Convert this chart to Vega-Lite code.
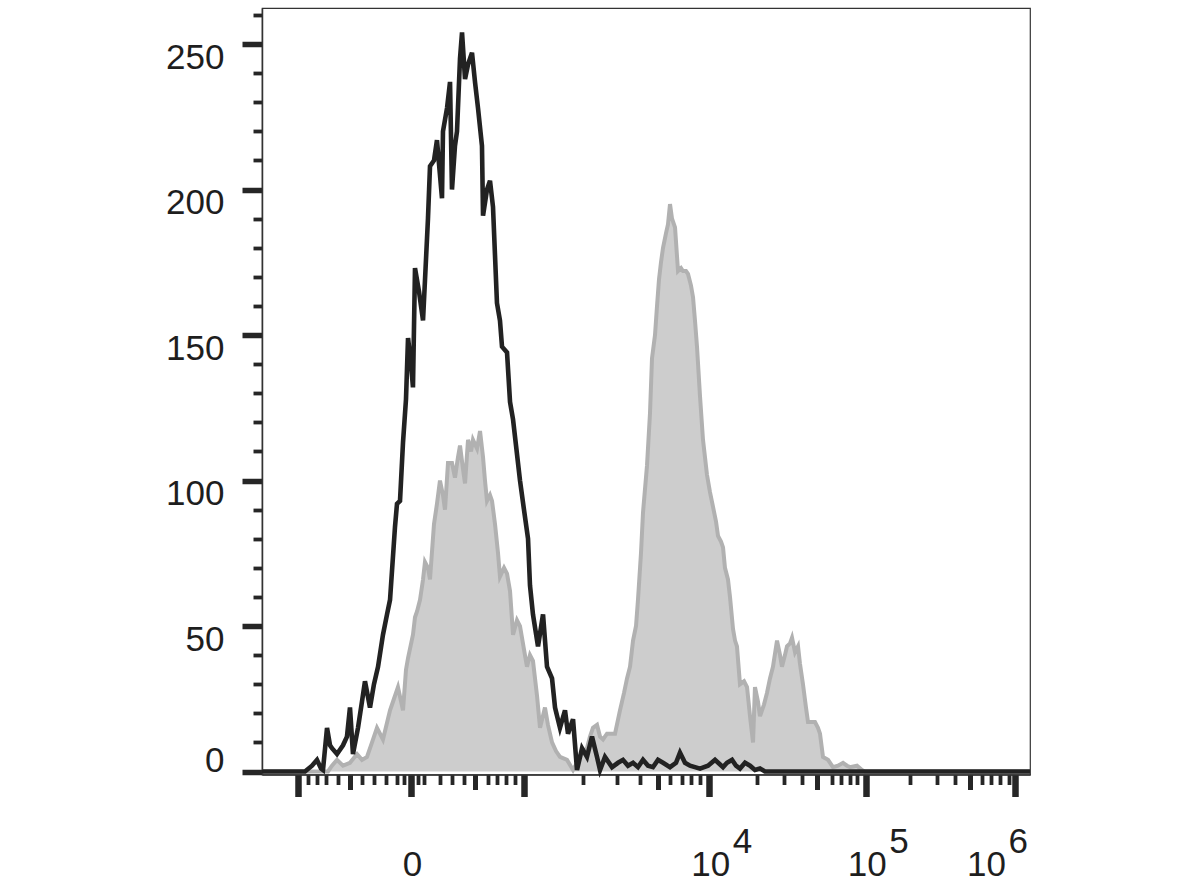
{
  "$schema": "https://vega.github.io/schema/vega-lite/v6.json",
  "width": 768,
  "height": 766.5,
  "autosize": {"type": "none"},
  "padding": {"left": 262, "top": 8, "right": 158, "bottom": 116.5},
  "background": "white",
  "config": {
    "view": {"stroke": "#333333", "strokeWidth": 1.2},
    "axis": {
      "grid": false,
      "labelFont": "Liberation Sans",
      "labelFontSize": 35,
      "labelColor": "#1e1e1e",
      "tickColor": "#262626",
      "domainColor": "#333333",
      "domainWidth": 1.5,
      "labelOverlap": false,
      "labelFlush": false,
      "labelBound": false
    }
  },
  "datasets": {
    "stained": [
      {"channel": 0, "count": 0}, {"channel": 88, "count": 0}, {"channel": 93.3, "count": 2}, {"channel": 100, "count": 4},
      {"channel": 108, "count": 2}, {"channel": 117.3, "count": 3}, {"channel": 126.7, "count": 6}, {"channel": 133.3, "count": 4},
      {"channel": 140, "count": 5}, {"channel": 146.7, "count": 10}, {"channel": 153.3, "count": 15}, {"channel": 161.3, "count": 11},
      {"channel": 170.7, "count": 21}, {"channel": 176, "count": 25}, {"channel": 181.3, "count": 29}, {"channel": 188, "count": 21},
      {"channel": 192, "count": 35}, {"channel": 194.7, "count": 39}, {"channel": 201.3, "count": 47}, {"channel": 204, "count": 53},
      {"channel": 206.7, "count": 55}, {"channel": 210.7, "count": 59}, {"channel": 214.7, "count": 66}, {"channel": 217.3, "count": 72},
      {"channel": 221.3, "count": 70}, {"channel": 224, "count": 66}, {"channel": 229.3, "count": 85}, {"channel": 233.3, "count": 92},
      {"channel": 237.3, "count": 100}, {"channel": 241.3, "count": 95}, {"channel": 244, "count": 90}, {"channel": 248, "count": 106},
      {"channel": 253.3, "count": 106}, {"channel": 257.3, "count": 101}, {"channel": 261.3, "count": 108}, {"channel": 264, "count": 112},
      {"channel": 268, "count": 104}, {"channel": 270.7, "count": 99}, {"channel": 274.7, "count": 114}, {"channel": 278.7, "count": 110},
      {"channel": 281.3, "count": 114}, {"channel": 286.7, "count": 111}, {"channel": 290.7, "count": 117}, {"channel": 294.7, "count": 108},
      {"channel": 297.3, "count": 100}, {"channel": 300, "count": 93}, {"channel": 304, "count": 95}, {"channel": 306.7, "count": 93},
      {"channel": 310.7, "count": 85}, {"channel": 314.7, "count": 75}, {"channel": 317.3, "count": 67}, {"channel": 322.7, "count": 70},
      {"channel": 326.7, "count": 68}, {"channel": 330.7, "count": 62}, {"channel": 334.7, "count": 47}, {"channel": 340, "count": 52},
      {"channel": 344, "count": 50}, {"channel": 349.3, "count": 42}, {"channel": 353.3, "count": 36}, {"channel": 357.3, "count": 40},
      {"channel": 361.3, "count": 38}, {"channel": 366.7, "count": 26}, {"channel": 370.7, "count": 15}, {"channel": 377.3, "count": 22},
      {"channel": 381.3, "count": 16}, {"channel": 386.7, "count": 10}, {"channel": 392, "count": 7}, {"channel": 397.3, "count": 5},
      {"channel": 406.7, "count": 4}, {"channel": 414.7, "count": 0.5}, {"channel": 420, "count": 3}, {"channel": 424, "count": 5},
      {"channel": 429.3, "count": 7}, {"channel": 433.3, "count": 8}, {"channel": 437.3, "count": 12}, {"channel": 441.3, "count": 15},
      {"channel": 446.7, "count": 16}, {"channel": 450.7, "count": 12}, {"channel": 454.7, "count": 11}, {"channel": 460, "count": 13},
      {"channel": 464, "count": 13}, {"channel": 470.7, "count": 13}, {"channel": 477.3, "count": 21}, {"channel": 482.7, "count": 27},
      {"channel": 486.7, "count": 32}, {"channel": 490.7, "count": 36}, {"channel": 494.7, "count": 45}, {"channel": 498.7, "count": 50},
      {"channel": 501.3, "count": 59}, {"channel": 505.3, "count": 75}, {"channel": 508, "count": 89}, {"channel": 513.3, "count": 105},
      {"channel": 517.3, "count": 123}, {"channel": 520, "count": 142}, {"channel": 524, "count": 150}, {"channel": 526.7, "count": 160},
      {"channel": 529.3, "count": 169}, {"channel": 532, "count": 175}, {"channel": 534.7, "count": 180}, {"channel": 538.7, "count": 185},
      {"channel": 541.3, "count": 188}, {"channel": 544, "count": 195}, {"channel": 546.7, "count": 190}, {"channel": 550.7, "count": 187},
      {"channel": 554.7, "count": 172}, {"channel": 558.7, "count": 173}, {"channel": 561.3, "count": 172}, {"channel": 565.3, "count": 172},
      {"channel": 568, "count": 171}, {"channel": 572, "count": 167}, {"channel": 574.7, "count": 163}, {"channel": 577.3, "count": 155},
      {"channel": 580, "count": 146}, {"channel": 584, "count": 129}, {"channel": 588, "count": 114}, {"channel": 593.3, "count": 102},
      {"channel": 597.3, "count": 96}, {"channel": 601.3, "count": 91}, {"channel": 605.3, "count": 86}, {"channel": 608, "count": 81},
      {"channel": 612, "count": 79}, {"channel": 614.7, "count": 77}, {"channel": 617.3, "count": 70}, {"channel": 621.3, "count": 66},
      {"channel": 624, "count": 60}, {"channel": 628, "count": 49}, {"channel": 630.7, "count": 45}, {"channel": 633.3, "count": 43},
      {"channel": 637.3, "count": 30}, {"channel": 642.7, "count": 31}, {"channel": 646.7, "count": 29}, {"channel": 650.7, "count": 19},
      {"channel": 654.7, "count": 10}, {"channel": 657.3, "count": 29}, {"channel": 661.3, "count": 24}, {"channel": 664, "count": 19},
      {"channel": 669.3, "count": 23}, {"channel": 673.3, "count": 27}, {"channel": 677.3, "count": 32}, {"channel": 681.3, "count": 36},
      {"channel": 686.7, "count": 45}, {"channel": 690.7, "count": 40}, {"channel": 693.3, "count": 36}, {"channel": 697.3, "count": 40},
      {"channel": 700, "count": 43}, {"channel": 704, "count": 44}, {"channel": 706.7, "count": 46}, {"channel": 710.7, "count": 41},
      {"channel": 714.7, "count": 43}, {"channel": 717.3, "count": 37}, {"channel": 721.3, "count": 30}, {"channel": 725.3, "count": 22},
      {"channel": 728, "count": 17}, {"channel": 733.3, "count": 17}, {"channel": 737.3, "count": 17}, {"channel": 741.3, "count": 15},
      {"channel": 744, "count": 13}, {"channel": 748, "count": 5}, {"channel": 754.7, "count": 4}, {"channel": 761.3, "count": 1.5},
      {"channel": 768, "count": 2}, {"channel": 774.7, "count": 3}, {"channel": 780, "count": 2}, {"channel": 784, "count": 1.5},
      {"channel": 793.3, "count": 2}, {"channel": 800, "count": 0.5}, {"channel": 804, "count": 0}, {"channel": 1024, "count": 0}
    ],
    "control": [
      {"channel": 0, "count": 0}, {"channel": 57.3, "count": 0}, {"channel": 66.7, "count": 2}, {"channel": 73.3, "count": 4},
      {"channel": 78.7, "count": 1}, {"channel": 81.3, "count": 0.5}, {"channel": 86.7, "count": 15}, {"channel": 90.7, "count": 9},
      {"channel": 93.3, "count": 8}, {"channel": 100, "count": 6}, {"channel": 108, "count": 9}, {"channel": 113.3, "count": 12},
      {"channel": 117.3, "count": 22}, {"channel": 121.3, "count": 6}, {"channel": 128, "count": 15}, {"channel": 133.3, "count": 24},
      {"channel": 137.3, "count": 31}, {"channel": 144, "count": 22}, {"channel": 149.3, "count": 30}, {"channel": 154.7, "count": 36},
      {"channel": 161.3, "count": 47}, {"channel": 166.7, "count": 54}, {"channel": 170.7, "count": 59}, {"channel": 177.3, "count": 84},
      {"channel": 180, "count": 92}, {"channel": 184, "count": 93}, {"channel": 188, "count": 113}, {"channel": 192, "count": 128},
      {"channel": 194.7, "count": 149}, {"channel": 198.7, "count": 140}, {"channel": 201.3, "count": 132}, {"channel": 204, "count": 173},
      {"channel": 209.3, "count": 165}, {"channel": 214.7, "count": 155}, {"channel": 221.3, "count": 190}, {"channel": 224, "count": 208},
      {"channel": 229.3, "count": 210}, {"channel": 233.3, "count": 217}, {"channel": 237.3, "count": 205}, {"channel": 240, "count": 197},
      {"channel": 241.3, "count": 220}, {"channel": 246.7, "count": 228}, {"channel": 250.7, "count": 237}, {"channel": 253.3, "count": 200},
      {"channel": 257.3, "count": 215}, {"channel": 260, "count": 220}, {"channel": 264, "count": 245}, {"channel": 266.7, "count": 254},
      {"channel": 270.7, "count": 238}, {"channel": 274.7, "count": 243}, {"channel": 280, "count": 247}, {"channel": 284, "count": 237},
      {"channel": 288, "count": 228}, {"channel": 293.3, "count": 215}, {"channel": 294.7, "count": 191}, {"channel": 300, "count": 200},
      {"channel": 304, "count": 203}, {"channel": 308, "count": 194}, {"channel": 313.3, "count": 161}, {"channel": 317.3, "count": 155},
      {"channel": 320, "count": 146}, {"channel": 326.7, "count": 144}, {"channel": 330.7, "count": 127}, {"channel": 334.7, "count": 121},
      {"channel": 338.7, "count": 112}, {"channel": 344, "count": 100}, {"channel": 349.3, "count": 90}, {"channel": 354.7, "count": 80},
      {"channel": 357.3, "count": 64}, {"channel": 361.3, "count": 54}, {"channel": 368, "count": 43}, {"channel": 374.7, "count": 54},
      {"channel": 380, "count": 36}, {"channel": 386.7, "count": 32}, {"channel": 390.7, "count": 22}, {"channel": 397.3, "count": 15},
      {"channel": 404, "count": 21}, {"channel": 408, "count": 13}, {"channel": 414.7, "count": 18}, {"channel": 420, "count": 0.5},
      {"channel": 426.7, "count": 8}, {"channel": 433.3, "count": 5}, {"channel": 440, "count": 12}, {"channel": 446.7, "count": 5},
      {"channel": 450.7, "count": 0.5}, {"channel": 457.3, "count": 5}, {"channel": 466.7, "count": 1.5}, {"channel": 474.7, "count": 3},
      {"channel": 481.3, "count": 4}, {"channel": 488, "count": 2}, {"channel": 494.7, "count": 3}, {"channel": 501.3, "count": 1.5},
      {"channel": 508, "count": 4}, {"channel": 514.7, "count": 2}, {"channel": 521.3, "count": 1.5}, {"channel": 528, "count": 4},
      {"channel": 534.7, "count": 3}, {"channel": 544, "count": 1.5}, {"channel": 552, "count": 3}, {"channel": 557.3, "count": 6.5},
      {"channel": 564, "count": 3}, {"channel": 570.7, "count": 2}, {"channel": 584, "count": 1}, {"channel": 594.7, "count": 2},
      {"channel": 604, "count": 4}, {"channel": 614.7, "count": 1.5}, {"channel": 620, "count": 3}, {"channel": 626.7, "count": 4},
      {"channel": 632, "count": 2}, {"channel": 637.3, "count": 1}, {"channel": 644, "count": 3}, {"channel": 650.7, "count": 2},
      {"channel": 657.3, "count": 0.5}, {"channel": 664, "count": 1}, {"channel": 670.7, "count": 0}, {"channel": 1024, "count": 0}
    ]
  },
  "layer": [
    {
      "data": {"name": "stained"},
      "mark": {"type": "area", "color": "#cdcdcd", "interpolate": "linear"},
      "encoding": {
        "x": {
          "field": "channel", "type": "quantitative",
          "scale": {"domain": [0, 1024], "nice": false, "zero": false},
          "axis": {
            "orient": "bottom", "title": null,
            "values": [48, 61.3, 73.3, 85.3, 101.3, 117.3, 133.3, 149.3, 165.3, 180, 189.3, 198.7, 208, 216, 237.3, 253.3, 269.3, 284, 301.3, 313.3, 325.3, 337.3, 349.3, 428.4, 473, 504, 528.4, 544, 560.4, 572, 584, 596.4, 659.6, 696, 719.6, 739.6, 759.6, 771.6, 784, 792.9, 804.9, 864, 899.6, 924, 944, 959.6, 971.6, 984, 996.4, 1004],
            "labelExpr": "datum.value == 198.7 ? '0' : (datum.value == 596.4 || datum.value == 804.9 || datum.value == 1004) ? '10' : ''",
            "tickSize": {"condition": [{"test": "indexof([48,198.7,349.3,596.4,804.9,1004], datum.value) >= 0", "value": 22}, {"test": "indexof([117.3,284,528.4,739.6,944], datum.value) >= 0", "value": 15}], "value": 10},
            "tickWidth": {"condition": [{"test": "indexof([48,198.7,349.3,596.4,804.9,1004], datum.value) >= 0", "value": 6.5}, {"test": "indexof([117.3,284,528.4,739.6,944], datum.value) >= 0", "value": 5}], "value": 3.8},
            "labelPadding": 51,
            "labelOffset": {"condition": {"test": "datum.value > 1000", "value": -29}, "value": 1},
            "labelBaseline": "top",
            "labelAlign": "center"
          }
        },
        "y": {
          "field": "count", "type": "quantitative",
          "scale": {"domain": [-1.03, 262.4], "nice": false, "zero": false},
          "axis": {
            "orient": "left", "title": null,
            "values": [0, 10, 20, 30, 40, 50, 60, 70, 80, 90, 100, 110, 120, 130, 140, 150, 160, 170, 180, 190, 200, 210, 220, 230, 240, 250, 260],
            "labelExpr": "datum.value % 50 == 0 ? datum.label : ''",
            "tickSize": {"condition": {"test": "datum.value % 50 == 0", "value": 20}, "value": 9},
            "tickWidth": {"condition": {"test": "datum.value % 50 == 0", "value": 5.5}, "value": 3.8},
            "labelPadding": 18,
            "labelOffset": {"condition": {"test": "datum.value == 0", "value": 0}, "value": -4},
            "labelBaseline": {"condition": {"test": "datum.value == 0", "value": "alphabetic"}, "value": "top"}
          }
        }
      }
    },
    {
      "data": {"name": "stained"},
      "mark": {"type": "line", "color": "#b1b1b1", "strokeWidth": 4, "interpolate": "linear"},
      "encoding": {
        "x": {
          "field": "channel", "type": "quantitative",
          "axis": {
            "orient": "bottom", "title": null,
            "values": [596.4, 804.9, 1004],
            "labelExpr": "datum.value == 596.4 ? '4' : datum.value == 804.9 ? '5' : '6'",
            "ticks": false, "domain": false,
            "labelPadding": 50,
            "labelAlign": "left",
            "labelBaseline": "top",
            "labelOffset": {"condition": {"test": "datum.value > 1000", "value": -7}, "value": 23}
          }
        },
        "y": {"field": "count", "type": "quantitative", "axis": null}
      }
    },
    {
      "data": {"name": "control"},
      "mark": {"type": "line", "color": "#222222", "strokeWidth": 4.6, "interpolate": "linear"},
      "encoding": {
        "x": {"field": "channel", "type": "quantitative", "axis": null},
        "y": {"field": "count", "type": "quantitative", "axis": null}
      }
    }
  ],
  "resolve": {"axis": {"x": "independent", "y": "independent"}}
}
